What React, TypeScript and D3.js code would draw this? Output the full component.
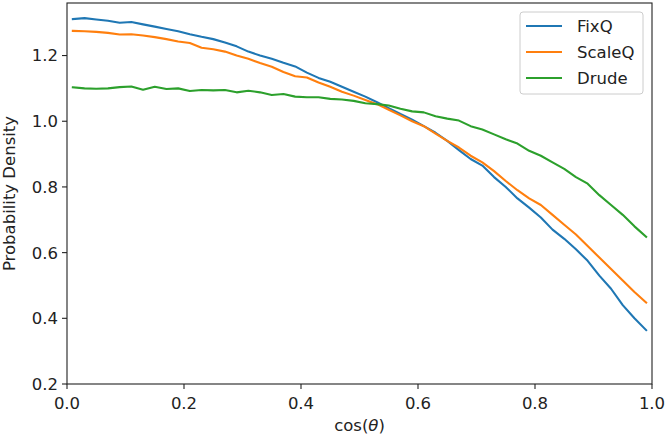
import React from "react";
import * as d3 from "d3";

const xs: number[] = Array.from({ length: 50 }, (_, i) => +(0.01 + 0.02 * i).toFixed(2));

const fixQ: number[] = [
  1.311, 1.314, 1.31, 1.306, 1.3, 1.302, 1.295, 1.288, 1.281, 1.274,
  1.265, 1.257, 1.25, 1.24, 1.228, 1.212, 1.2, 1.19, 1.178, 1.167,
  1.148, 1.132, 1.12, 1.105, 1.09, 1.075, 1.058, 1.04, 1.022, 1.005,
  0.985, 0.965, 0.94, 0.912, 0.885, 0.865, 0.83, 0.8, 0.765, 0.737,
  0.707, 0.67, 0.642, 0.61, 0.575, 0.53, 0.49, 0.44, 0.4, 0.364,
];
const scaleQ: number[] = [
  1.275, 1.274, 1.272, 1.269, 1.264, 1.265, 1.261, 1.256, 1.25, 1.243,
  1.238, 1.224, 1.219, 1.212, 1.2, 1.19, 1.177, 1.166, 1.15, 1.137,
  1.133, 1.118, 1.105, 1.09, 1.078, 1.065, 1.052, 1.035, 1.018, 1.0,
  0.985, 0.962, 0.94, 0.92, 0.895, 0.875, 0.848, 0.818, 0.79, 0.765,
  0.745, 0.715, 0.685, 0.655, 0.62, 0.585, 0.55, 0.515, 0.48, 0.448,
];
const drude: number[] = [
  1.103, 1.1, 1.099, 1.1, 1.104, 1.106, 1.096, 1.105, 1.098, 1.1,
  1.092, 1.095, 1.094, 1.095, 1.088, 1.093, 1.088, 1.08, 1.083, 1.075,
  1.073, 1.073, 1.068, 1.066, 1.062, 1.055, 1.052, 1.048, 1.038, 1.03,
  1.027, 1.015, 1.008, 1.002, 0.985, 0.975, 0.96, 0.945, 0.932, 0.91,
  0.895, 0.875, 0.855, 0.83, 0.81, 0.775, 0.745, 0.715, 0.68, 0.648,
];

const seriesNames: string[] = ["FixQ", "ScaleQ", "Drude"];
const seriesColors: string[] = ["#1f77b4", "#ff7f0e", "#2ca02c"];
const xTicks: number[] = [0, 0.2, 0.4, 0.6, 0.8, 1.0];
const yTicks: number[] = [0.2, 0.4, 0.6, 0.8, 1.0, 1.2];

const W = 666;
const H = 438;
const L = 67, R = 652, T = 3, B = 384;
const FONT = "DejaVu Sans, sans-serif";
const FS = 16.5;

export default function App() {
  const x = d3.scaleLinear().domain([0, 1]).range([L, R]);
  const y = d3.scaleLinear().domain([0.2, 1.36]).range([B, T]);
  const all = [fixQ, scaleQ, drude];
  const line = d3
    .line<number>()
    .x((_, i) => x(xs[i]))
    .y((d) => y(d));

  return (
    <div style={{ position: "absolute", left: 0, top: 0 }}>
      <svg width={W} height={H} style={{ display: "block", background: "#fff" }}>
        <rect x={0} y={0} width={W} height={H} fill="#fff" />
        <defs>
          <clipPath id="plotclip">
            <rect x={L} y={T} width={R - L} height={B - T} />
          </clipPath>
        </defs>
        <g clipPath="url(#plotclip)">
          {all.map((s, k) => (
            <path
              key={k}
              d={line(s) || ""}
              fill="none"
              stroke={seriesColors[k]}
              strokeWidth={2.1}
              strokeLinejoin="round"
              strokeLinecap="square"
            />
          ))}
        </g>
        {/* spines */}
        <rect x={L} y={T} width={R - L} height={B - T} fill="none" stroke="#222" strokeWidth={1.1} />
        {/* x ticks */}
        {xTicks.map((t) => (
          <g key={"x" + t}>
            <line x1={x(t)} x2={x(t)} y1={B} y2={B + 5} stroke="#222" strokeWidth={1.1} />
            <text x={x(t)} y={409} textAnchor="middle" fontFamily={FONT} fontSize={FS} fill="#222">
              {t.toFixed(1)}
            </text>
          </g>
        ))}
        {/* y ticks */}
        {yTicks.map((t) => (
          <g key={"y" + t}>
            <line x1={L - 5} x2={L} y1={y(t)} y2={y(t)} stroke="#222" strokeWidth={1.1} />
            <text x={L - 9} y={y(t)} dy="0.36em" textAnchor="end" fontFamily={FONT} fontSize={FS} fill="#222">
              {t.toFixed(1)}
            </text>
          </g>
        ))}
        <text x={(L + R) / 2} y={431} textAnchor="middle" fontFamily={FONT} fontSize={FS} fill="#222">
          cos(<tspan fontStyle="italic">θ</tspan>)
        </text>
        <text
          transform={`translate(15,${(T + B) / 2}) rotate(-90)`}
          textAnchor="middle"
          fontFamily={FONT}
          fontSize={FS}
          fill="#222"
        >
          Probability Density
        </text>
        {/* legend */}
        <rect x={520} y={12} width={123} height={82} rx={3} fill="#fff" fillOpacity={0.8} stroke="#ccc" strokeWidth={1} />
        {seriesNames.map((n, k) => (
          <g key={n}>
            <line x1={526} x2={562} y1={26 + k * 26} y2={26 + k * 26} stroke={seriesColors[k]} strokeWidth={2.1} />
            <text x={577} y={26 + k * 26} dy="0.36em" fontFamily={FONT} fontSize={FS} fill="#222">
              {n}
            </text>
          </g>
        ))}
      </svg>
    </div>
  );
}
